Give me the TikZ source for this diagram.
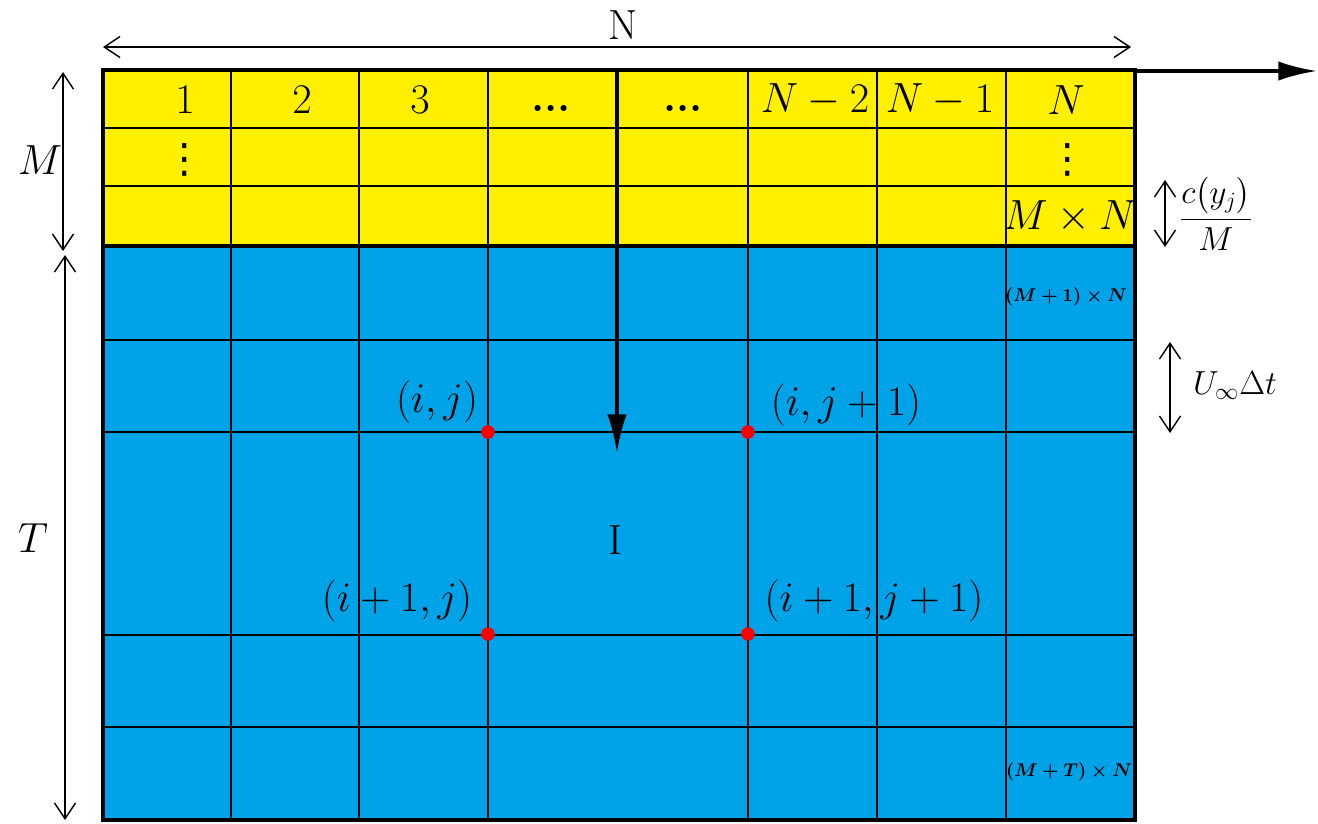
\RequirePackage{fix-cm}
\documentclass[tikz,border=0pt]{standalone}
\usepackage{amsmath,bm}
\usepackage{fontspec}
\newfontfamily\dejavu{DejaVu Sans}
\usetikzlibrary{arrows.meta}
\definecolor{gyellow}{RGB}{255,240,0}
\definecolor{gblue}{RGB}{0,162,232}
\definecolor{dotred}{RGB}{255,0,0}
\begin{document}
\begin{tikzpicture}[x=0.02cm,y=-0.02cm,
  gridline/.style={line width=0.8pt},
  border/.style={line width=2.2pt},
  dim/.style={line width=0.8pt,{Straight Barb[length=9pt,width=12pt]}-{Straight Barb[length=9pt,width=12pt]}},
  flow/.style={line width=2pt,-{Latex[length=22pt,width=11pt]}},
  big/.style={font=\fontsize{24}{28}\selectfont, inner sep=0pt},
  mid/.style={font=\fontsize{19}{23}\selectfont, inner sep=0pt},
  dotsv/.style={font=\dejavu\fontsize{23}{26}\selectfont, inner sep=0pt},
  small/.style={font=\fontsize{10.5}{12}\selectfont\boldmath, inner sep=0pt},
  reddot/.style={circle,fill=dotred,inner sep=0pt,minimum size=0.27cm}]
\useasboundingbox (0,0) rectangle (1318,823);
% fills
\fill[gyellow] (103,70) rectangle (1135,246);
\fill[gblue] (103,246) rectangle (1135,820);
% yellow grid
\foreach \yy in {128,186} \draw[gridline] (103,\yy) -- (1135,\yy);
\foreach \xx in {231,359,488,617,748,877,1006} \draw[gridline] (\xx,70) -- (\xx,246);
% blue grid
\foreach \yy in {340,432,635,727} \draw[gridline] (103,\yy) -- (1135,\yy);
\foreach \xx in {231,359,488,748,877,1006} \draw[gridline] (\xx,246) -- (\xx,820);
\draw[gridline] (617,246) -- (617,432);
% borders
\draw[border] (103,70) rectangle (1135,820);
\draw[border] (103,246) -- (1135,246);
% flow arrows
\coordinate (fstart) at (617,70);
\coordinate (fend) at (617,453);
\draw[flow] (fstart) -- (fend);
\coordinate (hstart) at (1133,71);
\coordinate (hend) at (1317,71);
\draw[flow] (hstart) -- (hend);
% dimension arrows
\coordinate (nl) at (103,47); \coordinate (nr) at (1131,47);
\draw[dim] (nl) -- (nr);
\coordinate (mt) at (63,72); \coordinate (mb) at (63,251);
\draw[dim] (mt) -- (mb);
\coordinate (tt) at (65,255); \coordinate (tb) at (65,820);
\draw[dim] (tt) -- (tb);
\coordinate (ct) at (1165,180); \coordinate (cb) at (1165,247);
\draw[dim] (ct) -- (cb);
\coordinate (ut) at (1170,342); \coordinate (ub) at (1170,433);
\draw[dim] (ut) -- (ub);
% dimension labels
\node[big] (lN) at (623,25) {N};
\node[big] (lM) at (40,160) {$M$};
\node[big] (lT) at (33,538) {$T$};
\node[mid] (lc) at (1216,213) {$\dfrac{c\big(y_j\big)}{M}$};
\node[mid] (lU) at (1235,386) {$U_\infty \Delta t$};
% header
\node[big] (h1) at (185,100) {$1$};
\node[big] (h2) at (302,100) {$2$};
\node[big] (h3) at (420,100) {$3$};
\node[big] (h4) at (551,108) {\textbf{...}};
\node[big] (h5) at (683,108) {\textbf{...}};
\node[big] (h6) at (815,100) {$N-2$};
\node[big] (h7) at (940,100) {$N-1$};
\node[big] (h8) at (1066,100) {$N$};
\node[dotsv] (v1) at (185,160) {⋮};
\node[dotsv] (v2) at (1068,160) {⋮};
\node[big] (mn) at (1070,217) {$M\times N$};
\node[small] (m1) at (1066,297) {$(M+1)\times N$};
\node[small] (mt2) at (1069,772) {$(M+T)\times N$};
% points
\node[reddot] (p1) at (488,432) {};
\node[reddot] (p2) at (748,432) {};
\node[reddot] (p3) at (488,634) {};
\node[reddot] (p4) at (748,634) {};
\node[big] (l1) at (437,402) {$(i,j)$};
\node[big] (l2) at (846,405) {$(i,j+1)$};
\node[big] (l3) at (397,601) {$(i+1,j)$};
\node[big] (l4) at (874,601) {$(i+1,j+1)$};
\node[big] (lI) at (615,540) {I};
\end{tikzpicture}
\end{document}
